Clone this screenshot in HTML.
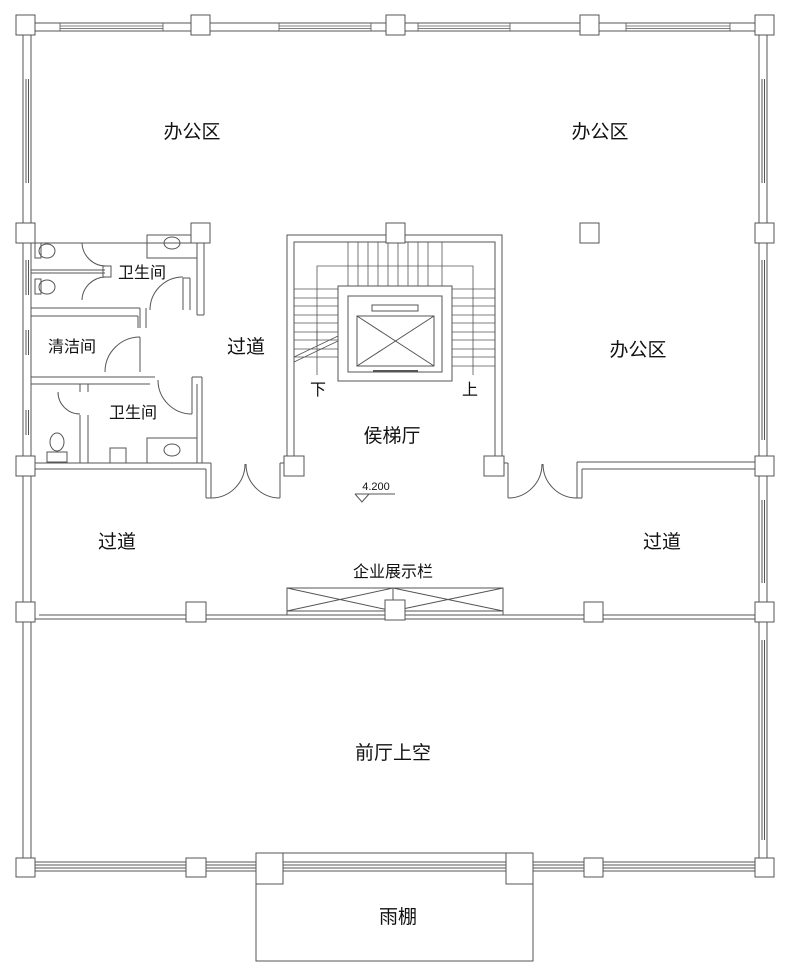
<!DOCTYPE html>
<html><head><meta charset="utf-8"><style>
html,body{margin:0;padding:0;background:#fff}
svg{display:block}
text{font-family:"Liberation Sans","Noto Sans CJK SC",sans-serif;fill:#111}
</style></head><body>
<svg width="789" height="974" viewBox="0 0 789 974" xmlns="http://www.w3.org/2000/svg">
<g fill="none" stroke="#555" stroke-width="1">
<line x1="35" y1="23" x2="755" y2="23"/><line x1="35" y1="31" x2="755" y2="31"/>
<g stroke-width="0.8">
<line x1="60" y1="26" x2="163" y2="26"/><line x1="60" y1="28.5" x2="163" y2="28.5"/>
<line x1="279" y1="26" x2="371" y2="26"/><line x1="279" y1="28.5" x2="371" y2="28.5"/>
<line x1="418" y1="26" x2="510" y2="26"/><line x1="418" y1="28.5" x2="510" y2="28.5"/>
<line x1="626" y1="26" x2="730" y2="26"/><line x1="626" y1="28.5" x2="730" y2="28.5"/>
<line x1="60" y1="23" x2="60" y2="31"/><line x1="163" y1="23" x2="163" y2="31"/>
<line x1="279" y1="23" x2="279" y2="31"/><line x1="371" y1="23" x2="371" y2="31"/>
<line x1="418" y1="23" x2="418" y2="31"/><line x1="510" y1="23" x2="510" y2="31"/>
<line x1="626" y1="23" x2="626" y2="31"/><line x1="730" y1="23" x2="730" y2="31"/>
</g>
<line x1="23" y1="35" x2="23" y2="858"/><line x1="31" y1="35" x2="31" y2="858"/>
<line x1="26" y1="79" x2="26" y2="183"/><line x1="28.5" y1="79" x2="28.5" y2="183"/>
<line x1="26" y1="260" x2="26" y2="295"/><line x1="28.5" y1="260" x2="28.5" y2="295"/>
<line x1="26" y1="330" x2="26" y2="355"/><line x1="28.5" y1="330" x2="28.5" y2="355"/>
<line x1="26" y1="410" x2="26" y2="435"/><line x1="28.5" y1="410" x2="28.5" y2="435"/>
<line x1="759" y1="35" x2="759" y2="858"/><line x1="767" y1="35" x2="767" y2="858"/>
<line x1="762" y1="79" x2="762" y2="183"/><line x1="764.5" y1="79" x2="764.5" y2="183"/>
<line x1="762" y1="500" x2="762" y2="583"/><line x1="764.5" y1="500" x2="764.5" y2="583"/>
<line x1="762" y1="260" x2="762" y2="440"/><line x1="764.5" y1="260" x2="764.5" y2="440"/>
<line x1="762" y1="640" x2="762" y2="840"/><line x1="764.5" y1="640" x2="764.5" y2="840"/>
<line x1="35" y1="862" x2="755" y2="862"/><line x1="35" y1="865" x2="755" y2="865"/>
<line x1="35" y1="868" x2="755" y2="868"/><line x1="35" y1="871" x2="755" y2="871"/>
<rect x="256" y="853" width="277" height="108"/>
<line x1="39" y1="615" x2="755" y2="615"/><line x1="35" y1="619" x2="755" y2="619"/>
<rect x="287" y="588" width="216" height="27"/>
<line x1="393" y1="588" x2="393" y2="615"/>
<line x1="287" y1="611" x2="503" y2="611"/>
<line x1="287" y1="611" x2="393" y2="588"/><line x1="287" y1="588" x2="393" y2="611"/>
<line x1="393" y1="611" x2="503" y2="588"/><line x1="393" y1="588" x2="503" y2="611"/>
<line x1="35" y1="463" x2="211" y2="463"/><line x1="35" y1="469" x2="206" y2="469"/>
<line x1="211" y1="463" x2="211" y2="498"/><line x1="206" y1="469" x2="206" y2="498"/><line x1="206" y1="498" x2="211" y2="498"/>
<path d="M211 498 A34 34 0 0 0 245 464"/><path d="M280 498 A34 34 0 0 1 246 464"/>
<line x1="280" y1="463" x2="280" y2="498"/><line x1="280" y1="463" x2="284" y2="463"/>
<line x1="508" y1="463" x2="508" y2="498"/><line x1="504" y1="463" x2="508" y2="463"/>
<path d="M508 498 A34 34 0 0 0 542 464"/><path d="M577 498 A34 34 0 0 1 543 464"/>
<line x1="577" y1="462" x2="577" y2="498"/><line x1="582" y1="469" x2="582" y2="498"/><line x1="577" y1="498" x2="582" y2="498"/>
<line x1="577" y1="462" x2="755" y2="462"/><line x1="582" y1="469" x2="755" y2="469"/>
<polyline points="287,456 287,235 502,235 502,456"/>
<polyline points="294,456 294,242 495,242 495,456"/>
<g stroke-width="0.8">
<line x1="348" y1="242" x2="348" y2="286"/><line x1="358" y1="242" x2="358" y2="286"/><line x1="368" y1="242" x2="368" y2="286"/>
<line x1="378" y1="242" x2="378" y2="286"/><line x1="388" y1="242" x2="388" y2="286"/><line x1="398" y1="242" x2="398" y2="286"/>
<line x1="408" y1="242" x2="408" y2="286"/><line x1="418" y1="242" x2="418" y2="286"/><line x1="428" y1="242" x2="428" y2="286"/>
<line x1="442" y1="242" x2="442" y2="286"/>
<polyline points="317,375 317,266 473,266 473,375"/>
<line x1="294" y1="289" x2="338" y2="289"/><line x1="294" y1="298" x2="338" y2="298"/><line x1="294" y1="306" x2="338" y2="306"/>
<line x1="294" y1="315" x2="338" y2="315"/><line x1="294" y1="323" x2="338" y2="323"/><line x1="294" y1="332" x2="338" y2="332"/>
<line x1="294" y1="340" x2="338" y2="340"/><line x1="294" y1="349" x2="338" y2="349"/><line x1="294" y1="357" x2="338" y2="357"/>
<line x1="452" y1="289" x2="495" y2="289"/><line x1="452" y1="298" x2="495" y2="298"/><line x1="452" y1="306" x2="495" y2="306"/>
<line x1="452" y1="315" x2="495" y2="315"/><line x1="452" y1="323" x2="495" y2="323"/><line x1="452" y1="332" x2="495" y2="332"/>
<line x1="452" y1="340" x2="495" y2="340"/><line x1="452" y1="349" x2="495" y2="349"/><line x1="452" y1="357" x2="495" y2="357"/>
<line x1="452" y1="366" x2="495" y2="366"/>
<line x1="294" y1="357" x2="338" y2="336"/><line x1="294" y1="362" x2="338" y2="341"/>
<line x1="317" y1="330" x2="317" y2="345"/>
</g>
<rect x="338" y="286" width="114" height="95"/>
<rect x="348" y="296" width="94" height="76"/>
<rect x="372" y="305" width="46" height="6"/>
<rect x="357" y="316" width="77" height="50"/>
<line x1="357" y1="316" x2="434" y2="366"/><line x1="434" y1="316" x2="357" y2="366"/>
<line x1="373" y1="371" x2="418" y2="371" stroke-width="2"/>
<line x1="355" y1="494" x2="395" y2="494"/>
<polyline points="355,494 362,502 369,494"/>
<line x1="35" y1="243" x2="192" y2="243"/>
<line x1="197" y1="243" x2="197" y2="315"/><line x1="204" y1="243" x2="204" y2="315"/><line x1="197" y1="315" x2="204" y2="315"/>
<rect x="147" y="235" width="50" height="23"/>
<ellipse cx="172" cy="243" rx="8" ry="6"/>
<line x1="183" y1="278" x2="183" y2="310"/><line x1="190" y1="278" x2="190" y2="310"/><line x1="183" y1="278" x2="190" y2="278"/>
<path d="M150 310 A33 33 0 0 1 183 277"/>
<line x1="31" y1="270" x2="105" y2="270"/><line x1="31" y1="273" x2="105" y2="273"/>
<rect x="103" y="266" width="8" height="11"/>
<path d="M82 243 A24 24 0 0 0 106 266"/><path d="M82 300 A24 24 0 0 1 106 277"/>
<line x1="82" y1="243" x2="102" y2="243"/>
<line x1="31" y1="308" x2="140" y2="308"/><line x1="31" y1="316" x2="138" y2="316"/>
<line x1="140" y1="308" x2="140" y2="328"/><line x1="146" y1="308" x2="146" y2="328"/>
<line x1="138" y1="316" x2="138" y2="328"/>
<path d="M105 372 A35 35 0 0 1 140 337"/>
<line x1="140" y1="337" x2="140" y2="372"/>
<line x1="31" y1="377" x2="155" y2="377"/><line x1="31" y1="384" x2="150" y2="384"/>
<line x1="192" y1="377" x2="202" y2="377"/><line x1="192" y1="377" x2="192" y2="414"/><line x1="197" y1="384" x2="197" y2="463"/><line x1="202" y1="377" x2="202" y2="463"/>
<path d="M158 380 A34 34 0 0 0 192 414"/>
<line x1="80" y1="415" x2="80" y2="463"/><line x1="88" y1="415" x2="88" y2="463"/>
<path d="M58 392 A22 22 0 0 0 80 414"/>
<line x1="80" y1="384" x2="80" y2="392"/><line x1="88" y1="384" x2="88" y2="392"/>
<rect x="147" y="438" width="50" height="25"/>
<ellipse cx="172" cy="450" rx="8" ry="6"/>
<rect x="110" y="448" width="16" height="15"/>
<rect x="47" y="452" width="20" height="10"/>
<ellipse cx="57" cy="442" rx="7" ry="9"/>
<rect x="35" y="243" width="6" height="15"/><ellipse cx="47" cy="251" rx="8" ry="7"/>
<rect x="35" y="279" width="6" height="15"/><ellipse cx="47" cy="287" rx="8" ry="7"/>
</g>
<g fill="#fff" stroke="#555" stroke-width="1">
<rect x="16" y="15" width="19" height="20"/><rect x="191" y="15" width="19" height="20"/><rect x="386" y="15" width="19" height="20"/><rect x="580" y="15" width="19" height="20"/><rect x="755" y="15" width="19" height="20"/>
<rect x="16" y="223" width="19" height="20"/><rect x="191" y="223" width="19" height="20"/><rect x="386" y="223" width="19" height="20"/><rect x="580" y="223" width="19" height="20"/><rect x="755" y="223" width="19" height="20"/>
<rect x="16" y="456" width="19" height="20"/><rect x="284" y="456" width="20" height="20"/><rect x="484" y="456" width="20" height="20"/><rect x="755" y="456" width="19" height="20"/>
<rect x="16" y="602" width="19" height="20"/><rect x="186" y="602" width="20" height="20"/><rect x="385" y="600" width="20" height="20"/><rect x="584" y="602" width="19" height="20"/><rect x="755" y="602" width="19" height="20"/>
<rect x="16" y="858" width="19" height="19"/><rect x="186" y="858" width="20" height="19"/><rect x="256" y="853" width="27" height="31"/><rect x="506" y="853" width="27" height="31"/><rect x="584" y="858" width="19" height="19"/><rect x="755" y="858" width="19" height="19"/>
</g>
<g font-size="19" text-anchor="middle">
<text x="192" y="138">办公区</text>
<text x="600" y="138">办公区</text>
<text x="638" y="356">办公区</text>
<text x="246" y="353">过道</text>
<text x="117" y="548">过道</text>
<text x="662" y="548">过道</text>
<text x="392" y="442">侯梯厅</text>
<text x="393" y="759">前厅上空</text>
<text x="398" y="923">雨棚</text>
</g>
<g font-size="16" text-anchor="middle">
<text x="142" y="278">卫生间</text>
<text x="133" y="418">卫生间</text>
<text x="72" y="352">清洁间</text>
<text x="393" y="577">企业展示栏</text>
<text x="318" y="395">下</text>
<text x="470" y="395">上</text>
</g>
<text x="376" y="490" font-size="11" text-anchor="middle">4.200</text>
</svg>
</body></html>
